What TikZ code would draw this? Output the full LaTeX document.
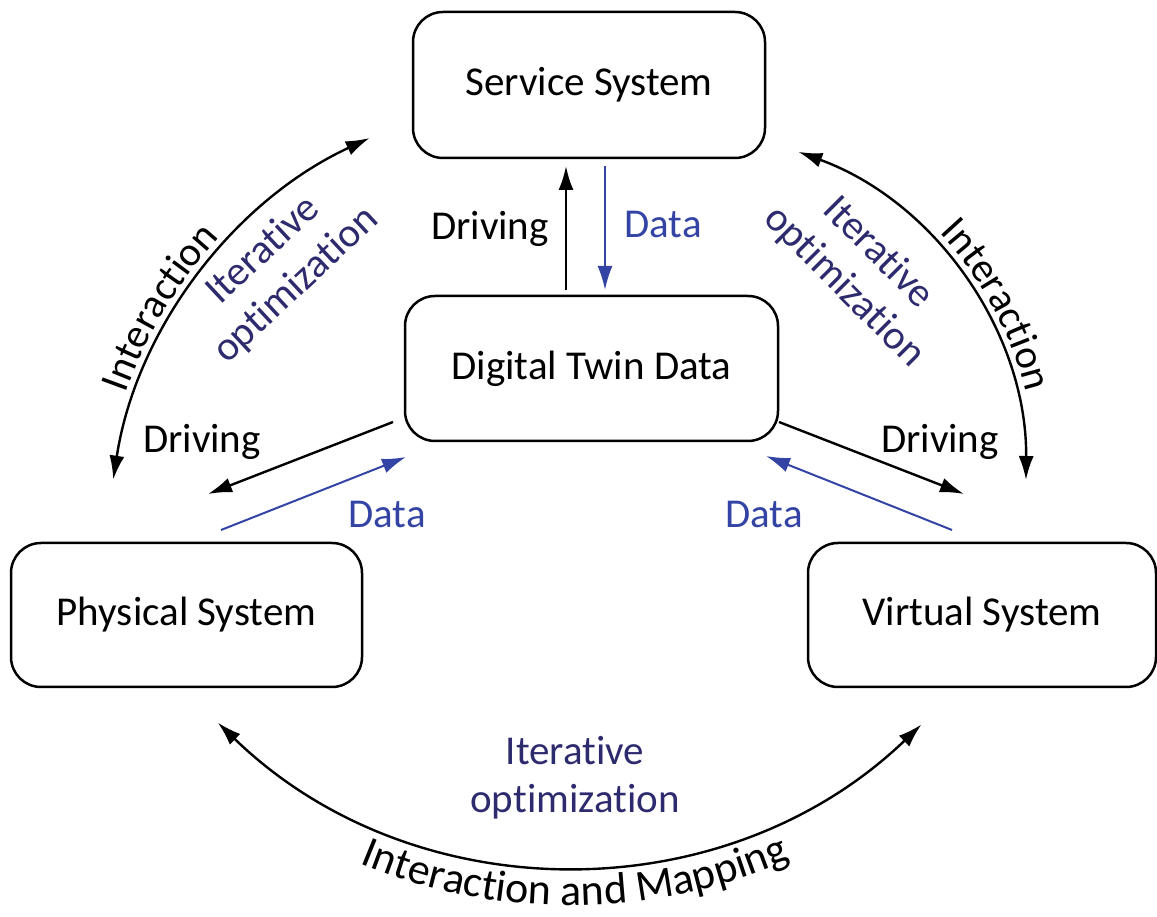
\documentclass[tikz,border=0pt]{standalone}
\usepackage{fontspec}
\setmainfont[RawFeature={-liga;-clig;-dlig}]{Carlito}
\usetikzlibrary{arrows.meta,decorations.text}
\definecolor{datablue}{RGB}{52,68,165}
\definecolor{optnavy}{RGB}{45,42,110}
\newcommand{\tiNL}{t\kern0pt i}
\begin{document}
\begin{tikzpicture}[x=1pt,y=1pt,
  sysbox/.style={draw, line width=2.5pt, rounded corners=30pt, inner sep=0pt,
    font=\fontsize{41}{49}\selectfont},
  lbl/.style={font=\fontsize{41}{49}\selectfont, inner sep=0pt, anchor=base},
  optlbl/.style={font=\fontsize{41}{48}\selectfont, text=optnavy, align=center, inner sep=0pt},
  tip/.style={-{Latex[length=24pt,width=15pt]}},
  bitip/.style={{Latex[length=24pt,width=15pt]}-{Latex[length=24pt,width=15pt]}},
  blkarrow/.style={tip, line width=2.4pt, color=black},
  bluarrow/.style={tip, line width=2pt, color=datablue},
  arcline/.style={bitip, line width=2.4pt, color=black},
  curvetext/.style={decorate, decoration={text along path, text align=center,
    text color=black, text={|\fontsize{#1}{49}\selectfont|Interaction}}}
]
\useasboundingbox (0,0) rectangle (1157,916);

% boxes
\node[sysbox, minimum width=352pt, minimum height=146pt] (svc) at (589,831) {Service System};
\node[sysbox, minimum width=373pt, minimum height=145pt] (dtd) at (591.5,547.5) {Digital Twin Data};
\node[sysbox, minimum width=351pt, minimum height=144pt] (phy) at (186.5,301) {Physical System};
\node[sysbox, minimum width=348pt, minimum height=144pt] (vir) at (982,301) {Virtual System};

% arrow end points
\coordinate (dUpA) at (566,626);  \coordinate (dUpB) at (566,750);
\coordinate (dDnA) at (605,750);  \coordinate (dDnB) at (605,626);
\coordinate (lDrA) at (393,494);  \coordinate (lDrB) at (208,422);
\coordinate (lDaA) at (221,386);  \coordinate (lDaB) at (406,459);
\coordinate (rDrA) at (779,494);  \coordinate (rDrB) at (964,422);
\coordinate (rDaA) at (952,386);  \coordinate (rDaB) at (766,460);

\draw[blkarrow] (dUpA) -- (dUpB);
\draw[bluarrow] (dDnA) -- (dDnB);
\draw[blkarrow] (lDrA) -- (lDrB);
\draw[bluarrow] (lDaA) -- (lDaB);
\draw[blkarrow] (rDrA) -- (rDrB);
\draw[bluarrow] (rDaA) -- (rDaB);

% labels of straight arrows
\node[lbl] (tDrv) at (490,676) {Driving};
\node[lbl, text=datablue] (tDat) at (663,678) {Data};
\node[lbl] (lDrv) at (202,463) {Driving};
\node[lbl, text=datablue] (lDat) at (387,388) {Data};
\node[lbl] (rDrv) at (940,463) {Driving};
\node[lbl, text=datablue] (rDat) at (764,388) {Data};

% curved arcs
\coordinate (cL) at (560,368);
\coordinate (cR) at (680,439);
\coordinate (cB) at (570.6,557.5);
\draw[arcline] (cL) ++(114.9:452) arc[start angle=114.9, end angle=171.3, radius=452];
\draw[arcline] (cR) ++(70:346) arc[start angle=70, end angle=-0.5, radius=346];
\draw[arcline] (cB) ++(225.9:507) arc[start angle=225.9, end angle=313.8, radius=507];

% arc labels
\path[curvetext=41] (cL) ++(172:461) arc[start angle=172, end angle=126, radius=461];
\path[curvetext=41] (cR) ++(52:356) arc[start angle=52, end angle=5, radius=356];
\node[optlbl, rotate=43] (lOpt) at (280,648) {Itera\tiNL{}ve\\op\tiNL{}miza\tiNL{}on};
\node[optlbl, rotate=-45] (rOpt) at (861,646) {Itera\tiNL{}ve\\op\tiNL{}miza\tiNL{}on};
\node[optlbl] (bOpt) at (575,138) {Itera\tiNL{}ve\\op\tiNL{}miza\tiNL{}on};

\path[decorate, decoration={text along path, text align=center, text color=black,
  text={|\fontsize{44}{52}\selectfont|Interaction and Mapping}}]
  (cB) ++(222:547) arc[start angle=222, end angle=319, radius=547];
\end{tikzpicture}
\end{document}
